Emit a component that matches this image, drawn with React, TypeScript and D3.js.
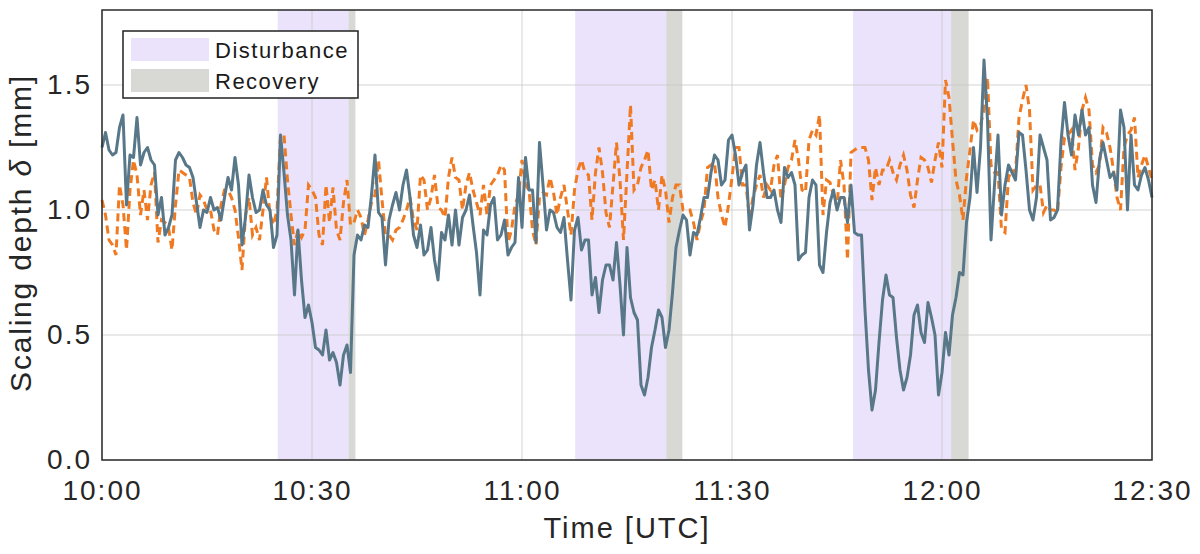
import { useEffect, useRef } from "react"
import * as d3 from "d3"

// samples every 30 s starting at 10:00 UTC
const stepMinutes = 0.5

const measuredDepth = [
  1.25, 1.31, 1.24, 1.22, 1.23, 1.33, 1.38, 1.02, 1.22, 1.21,
  1.37, 1.18, 1.23, 1.25, 1.2, 1.18, 0.98, 1.05, 0.9, 0.93,
  0.98, 1.2, 1.23, 1.21, 1.18, 1.17, 1.13, 1.03, 0.93, 1.0,
  0.99, 1.05, 1.0, 1.01, 0.96, 1.05, 1.13, 1.08, 1.21, 1.1,
  0.86, 0.97, 1.14, 1.05, 0.99, 1.0, 1.08, 1.02, 1.0, 0.85,
  0.9, 1.3, 1.15, 0.98, 0.88, 0.66, 0.92, 0.72, 0.57, 0.62,
  0.55, 0.45, 0.44, 0.42, 0.52, 0.4, 0.43, 0.39, 0.3, 0.42,
  0.46, 0.35, 0.82, 0.9, 0.88, 0.94, 0.93, 1.06, 1.22, 0.99,
  0.97, 0.78, 0.96, 1.02, 1.07, 1.0, 1.1, 1.16, 1.05, 0.9,
  0.85, 0.94, 0.82, 0.84, 0.93, 0.8, 0.72, 0.91, 0.88, 0.98,
  0.86, 1.0, 0.86, 0.97, 1.0, 1.06, 0.94, 0.83, 0.66, 0.92,
  0.9, 1.02, 1.05, 0.88, 0.9, 0.96, 0.82, 0.85, 0.87, 1.13,
  0.93, 1.21, 1.08, 1.08, 0.87, 1.27, 1.1, 0.92, 1.0, 0.99,
  0.93, 0.91, 0.97, 0.8, 0.64, 0.92, 0.97, 0.84, 0.88, 0.88,
  0.66, 0.73, 0.59, 0.72, 0.78, 0.78, 0.72, 0.87, 0.7, 0.5,
  0.85, 0.65, 0.59, 0.56, 0.3, 0.26, 0.33, 0.45, 0.52, 0.6,
  0.57, 0.45, 0.52, 0.67, 0.85, 0.92, 0.98, 0.96, 0.82, 0.91,
  0.9, 0.97, 1.05, 1.05, 1.15, 1.22, 1.2, 1.1, 1.12, 1.28,
  1.3, 1.22, 1.1, 1.15, 1.18, 0.92, 1.02, 1.18, 1.27, 1.15,
  1.05, 1.05, 1.08, 1.0, 0.95, 1.17, 1.13, 1.15, 1.1, 0.8,
  0.82, 0.83, 1.05, 1.12, 1.1, 0.78, 0.75, 0.91, 1.03, 1.08,
  1.0, 1.05, 1.05, 0.95, 1.1, 0.91, 0.9, 0.9, 0.6, 0.36,
  0.2, 0.28, 0.47, 0.64, 0.74, 0.66, 0.65, 0.49, 0.36, 0.28,
  0.33, 0.42, 0.58, 0.62, 0.51, 0.47, 0.63, 0.57, 0.5, 0.26,
  0.35, 0.51, 0.42, 0.58, 0.65, 0.75, 0.74, 0.95, 1.05, 1.25,
  1.07, 1.25, 1.6, 1.36, 0.88, 1.1, 1.3, 0.98, 1.1, 1.18,
  1.15, 1.12, 1.31, 1.3, 1.16, 1.0, 0.96, 1.05, 1.3, 1.25,
  1.2, 0.96, 0.97, 1.0, 1.27, 1.43, 1.3, 1.22, 1.38, 1.3,
  1.4, 1.3, 1.33, 1.1, 1.03, 1.2, 1.27, 1.2, 1.13, 1.15,
  1.08, 1.4, 1.33, 1.0, 1.3, 1.1, 1.08, 1.14, 1.17, 1.12,
  1.05,
]

const referenceDepth = [
  1.04, 0.98, 0.88, 0.86, 0.82, 1.1, 1.02, 0.84, 1.08, 1.2,
  1.14, 0.98, 1.08, 0.96, 1.1, 1.15, 0.87, 0.96, 0.95, 0.93,
  0.84, 1.02, 1.16, 1.15, 1.14, 1.13, 1.03, 0.98, 1.06, 1.04,
  1.0, 1.0, 0.92, 0.9, 1.02, 1.08, 1.08, 1.05, 1.0, 0.89,
  0.76, 0.98, 1.05, 0.9, 0.93, 0.88, 1.0, 1.13, 0.98, 0.94,
  1.0, 1.3, 1.3, 1.12, 0.98, 0.86, 0.92, 0.89, 0.92, 1.1,
  1.08, 1.05, 0.9, 0.86, 1.1, 0.95, 1.09, 0.92, 0.88, 1.03,
  1.12, 0.94, 0.95, 1.0, 0.97, 0.9, 0.96, 1.03, 1.06, 1.2,
  1.04, 0.9, 0.9, 0.88, 0.92, 0.93, 0.96, 1.0, 1.05, 0.96,
  0.92, 1.14, 1.12, 1.0, 1.05, 1.14, 1.01, 1.0, 0.97, 1.13,
  1.21, 1.13, 1.12, 1.0, 1.1, 1.15, 1.08, 1.03, 0.98, 1.1,
  0.98, 1.1, 1.12, 1.14, 1.18, 1.16, 0.87, 0.92, 1.02, 1.06,
  1.2, 1.1, 1.08, 0.92, 0.86, 1.05, 1.07, 1.06, 1.13, 1.07,
  0.98, 1.05, 1.1, 1.0, 0.9, 1.08, 1.16, 1.2, 1.15, 1.14,
  0.96, 1.15, 1.25, 1.15, 0.99, 0.93, 1.1, 1.27, 1.12, 0.88,
  1.15, 1.42, 1.08, 1.1, 1.17, 1.2, 1.24, 1.08, 1.12, 1.0,
  1.14, 1.08, 0.95, 1.05, 1.1, 1.1, 1.0, 1.0, 1.0, 0.95,
  0.88, 0.95, 1.0, 1.17, 1.18, 1.19, 1.05, 0.98, 0.93, 1.02,
  1.13, 1.25, 1.25, 1.1, 1.1, 0.97, 1.05, 1.1, 1.14, 1.05,
  1.1, 1.08, 1.18, 1.22, 1.04, 1.1, 1.17, 1.2, 1.28, 1.2,
  1.08, 1.07, 1.28, 1.32, 1.3, 1.38, 0.98, 1.12, 1.11, 1.06,
  1.01, 1.2, 1.1, 0.8, 1.23, 1.24, 1.25, 1.25, 1.25, 1.2,
  1.04, 1.17, 1.1, 1.16, 1.16, 1.2, 1.15, 1.12, 1.18, 1.22,
  1.16, 1.06, 1.01, 1.12, 1.21, 1.2, 1.17, 1.11, 1.2, 1.27,
  1.17, 1.52, 1.45, 1.28, 1.12, 1.06, 0.96, 1.13, 1.24, 1.36,
  1.32, 1.34, 1.4, 1.53, 1.18, 1.15, 1.15, 0.92, 0.91, 1.13,
  1.16, 1.15, 1.37, 1.44, 1.5, 1.4, 1.08, 1.1, 1.1, 0.99,
  1.02, 1.0, 1.0, 0.99, 1.17, 1.29, 1.3, 1.32, 1.16, 1.25,
  1.4, 1.45, 1.4, 1.18, 1.15, 1.18, 1.33, 1.31, 1.25, 1.16,
  1.05, 1.0, 1.25, 1.3, 1.32, 1.37, 1.13, 1.18, 1.22, 1.17,
  1.12,
]

// minutes after 10:00
const disturbanceStart = [25.1, 67.6, 107.3]
const disturbanceEnd = [35.2, 80.6, 121.3]
const recoveryEnd = [36.2, 82.9, 123.8]

const legendLabels = ["Disturbance", "Recovery"]
const yTicks = [0, 0.5, 1.0, 1.5]

const baseTime = Date.UTC(2021, 0, 1, 10, 0)
const toDate = (m: number) => new Date(baseTime + m * 60000)

const FONT = "'Liberation Sans', Arial, sans-serif"
const DIST_COLOR = "#ebe3fb"
const REC_COLOR = "#d8d8d5"

export default function App() {
  const svgRef = useRef<SVGSVGElement>(null)

  useEffect(() => {
    if (!svgRef.current) return
    d3.select(svgRef.current).selectAll("*").remove()

    const margin = { top: 10, right: 48, bottom: 94, left: 102 }
    const width = 1200 - margin.left - margin.right
    const height = 554 - margin.top - margin.bottom

    const root = d3.select(svgRef.current).style("font-family", FONT)
    const svg = root.append("g").attr("transform", `translate(${margin.left},${margin.top})`)

    const x = d3
      .scaleUtc()
      .domain([toDate(0), toDate(150)])
      .range([0, width])

    const y = d3.scaleLinear().domain([0, 1.8]).range([height, 0])

    // shaded periods
    disturbanceStart.forEach((s, i) => {
      svg
        .append("rect")
        .attr("x", x(toDate(s)))
        .attr("y", 0)
        .attr("width", x(toDate(disturbanceEnd[i])) - x(toDate(s)))
        .attr("height", height)
        .attr("fill", DIST_COLOR)
      svg
        .append("rect")
        .attr("x", x(toDate(disturbanceEnd[i])))
        .attr("y", 0)
        .attr("width", x(toDate(recoveryEnd[i])) - x(toDate(disturbanceEnd[i])))
        .attr("height", height)
        .attr("fill", REC_COLOR)
    })

    // grid
    const xTicks = x.ticks(d3.utcMinute.every(30)!)
    svg
      .append("g")
      .selectAll("line")
      .data(xTicks)
      .enter()
      .append("line")
      .attr("x1", (d) => x(d))
      .attr("x2", (d) => x(d))
      .attr("y1", 0)
      .attr("y2", height)
      .attr("stroke", "#c8c8c8")
      .attr("stroke-opacity", 0.8)
      .attr("stroke-width", 1)
    svg
      .append("g")
      .selectAll("line")
      .data(yTicks)
      .enter()
      .append("line")
      .attr("x1", 0)
      .attr("x2", width)
      .attr("y1", (d) => y(d))
      .attr("y2", (d) => y(d))
      .attr("stroke", "#c8c8c8")
      .attr("stroke-opacity", 0.8)
      .attr("stroke-width", 1)

    // series
    const line = d3
      .line<number>()
      .x((_, i) => x(toDate(i * stepMinutes)))
      .y((d) => y(d))

    svg
      .append("path")
      .datum(referenceDepth)
      .attr("d", line)
      .attr("fill", "none")
      .attr("stroke", "#f07a22")
      .attr("stroke-width", 3)
      .attr("stroke-dasharray", "8 5")

    svg
      .append("path")
      .datum(measuredDepth)
      .attr("d", line)
      .attr("fill", "none")
      .attr("stroke", "#587889")
      .attr("stroke-width", 3)
      .attr("stroke-linejoin", "round")

    // axes
    const xAxis = svg
      .append("g")
      .attr("transform", `translate(0,${height})`)
      .call(
        d3
          .axisBottom(x)
          .ticks(d3.utcMinute.every(30)!)
          .tickFormat((d) => d3.utcFormat("%H:%M")(d as Date))
          .tickSize(0)
          .tickPadding(20)
      )
    xAxis.select(".domain").remove()
    xAxis
      .selectAll("text")
      .attr("font-family", FONT)
      .attr("font-size", 28)
      .attr("letter-spacing", "2px")
      .attr("fill", "#262626")

    const yAxis = svg
      .append("g")
      .call(
        d3
          .axisLeft(y)
          .tickValues(yTicks)
          .tickFormat(d3.format(".1f"))
          .tickSize(0)
          .tickPadding(10)
      )
    yAxis.select(".domain").remove()
    yAxis
      .selectAll("text")
      .attr("font-family", FONT)
      .attr("font-size", 28)
      .attr("letter-spacing", "2px")
      .attr("fill", "#262626")

    // frame
    svg
      .append("rect")
      .attr("width", width)
      .attr("height", height)
      .attr("fill", "none")
      .attr("stroke", "#2a2a2a")
      .attr("stroke-width", 1.5)

    // axis labels
    svg
      .append("text")
      .attr("x", width / 2)
      .attr("y", height + 78)
      .attr("text-anchor", "middle")
      .attr("font-size", 29)
      .attr("letter-spacing", "2px")
      .attr("fill", "#262626")
      .text("Time [UTC]")

    const yl = root
      .append("text")
      .attr("transform", `translate(31,233) rotate(-90)`)
      .attr("text-anchor", "middle")
      .attr("font-size", 30)
      .attr("letter-spacing", "1.8px")
      .attr("fill", "#262626")
    yl.append("tspan").text("Scaling depth ")
    yl.append("tspan").attr("font-style", "italic").text("δ")
    yl.append("tspan").text(" [mm]")

    // legend
    const legend = root.append("g").attr("transform", "translate(123,31)")
    legend
      .append("rect")
      .attr("width", 235)
      .attr("height", 67)
      .attr("fill", "white")
      .attr("stroke", "#222")
      .attr("stroke-width", 1.5)
    legendLabels.forEach((label, i) => {
      legend
        .append("rect")
        .attr("x", 8)
        .attr("y", 7 + i * 31)
        .attr("width", 78)
        .attr("height", 23)
        .attr("fill", i === 0 ? DIST_COLOR : REC_COLOR)
      legend
        .append("text")
        .attr("x", 92)
        .attr("y", 27 + i * 30.5)
        .attr("font-size", 22)
        .attr("letter-spacing", "1.5px")
        .attr("fill", "#1a1a1a")
        .text(label)
    })
  }, [])

  return (
    <svg
      ref={svgRef}
      width={1200}
      height={554}
      style={{ position: "absolute", left: 0, top: 0, background: "white" }}
    />
  )
}
